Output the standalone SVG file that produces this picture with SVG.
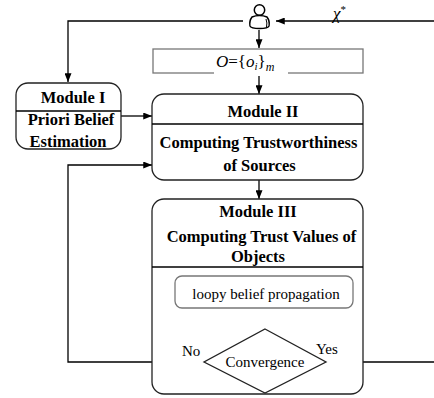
<svg xmlns="http://www.w3.org/2000/svg" width="434" height="398" viewBox="0 0 434 398">
<defs>
<marker id="arr" viewBox="0 0 10 8" refX="10" refY="4" markerWidth="9" markerHeight="7" markerUnits="userSpaceOnUse" orient="auto">
<path d="M0,0 L10,4 L0,8 Z" fill="#000"/>
</marker>
<style>
.ln{fill:none;stroke:#000;stroke-width:1.3}
.box{fill:#fff;stroke:#222;stroke-width:1.3}
.gbox{fill:#fff;stroke:#777;stroke-width:1.3}
text{font-family:'Liberation Serif','DejaVu Serif',serif}
.b{font-weight:bold;font-size:16.5px;fill:#000;text-anchor:middle}
.r{font-size:15px;fill:#000}
.m{font-size:17px;fill:#000}
</style>
</defs>
<rect width="434" height="398" fill="#fff"/>
<g id="connectors">
<polyline class="ln" points="243,21 68,21 68,82" marker-end="url(#arr)"/>
<line class="ln" x1="434" y1="21" x2="276" y2="21" marker-end="url(#arr)"/>
<line class="ln" x1="259" y1="30" x2="259" y2="48" marker-end="url(#arr)"/>
<line class="ln" x1="259" y1="73" x2="259" y2="94" marker-end="url(#arr)"/>
<line class="ln" x1="121" y1="116" x2="152" y2="116" marker-end="url(#arr)"/>
<line class="ln" x1="259" y1="180" x2="259" y2="199" marker-end="url(#arr)"/>
<line class="ln" x1="265" y1="308" x2="265" y2="329" marker-end="url(#arr)"/>
<polyline class="ln" points="204,362 68,362 68,165 152,165" marker-end="url(#arr)"/>
<line class="ln" x1="326" y1="362" x2="434" y2="362"/>
</g>
<g id="chi">
<text class="m" x="333" y="19" font-family="Liberation Serif, DejaVu Serif, serif" font-style="italic">χ<tspan font-size="11px" font-style="normal" dy="-6">*</tspan></text>
</g>
<g id="user">
<circle cx="259.5" cy="10" r="5.2" fill="#fff" stroke="#000" stroke-width="1.5"/>
<path d="M252,17 Q249,21 250,26 Q251,28.5 259.5,28.5 Q268,28.5 269,26 Q270,21 267,17 Q263.5,15.5 259.5,15.5 Q255.5,15.5 252,17 Z" fill="#fff" stroke="#000" stroke-width="1.5"/>
<path d="M266,19 Q267.5,23 266.5,27" fill="none" stroke="#000" stroke-width="1"/>
</g>
<g id="observations">
<rect class="gbox" x="153" y="49" width="210" height="24"/>
<rect x="214" y="66" width="74" height="10" fill="#fff"/>
<text class="m" x="216" y="67" font-family="Liberation Serif, DejaVu Serif, serif"><tspan font-style="italic">O</tspan>={<tspan font-style="italic">o</tspan><tspan font-style="italic" font-size="11px" dy="3">i</tspan><tspan dy="-3">}</tspan><tspan font-style="italic" font-size="12px" dy="4">m</tspan></text>
</g>
<g id="module1" font-family="Liberation Serif, DejaVu Serif, serif">
<rect class="box" x="16" y="83" width="105" height="66" rx="12"/>
<line class="ln" x1="16" y1="111" x2="121" y2="111"/>
<text class="b" x="73" y="103">Module I</text>
<text class="b" x="71" y="125">Priori Belief</text>
<text class="b" x="68" y="147">Estimation</text>
</g>
<g id="module2" font-family="Liberation Serif, DejaVu Serif, serif">
<rect class="box" x="152" y="94" width="211" height="86" rx="12"/>
<line class="ln" x1="152" y1="124" x2="363" y2="124"/>
<text class="b" x="263" y="117">Module II</text>
<text class="b" x="258.5" y="148">Computing Trustworthiness</text>
<text class="b" x="259.5" y="171">of Sources</text>
</g>
<g id="module3" font-family="Liberation Serif, DejaVu Serif, serif">
<rect class="box" x="152" y="199" width="211" height="195" rx="12"/>
<line class="ln" x1="152" y1="267" x2="363" y2="267"/>
<text class="b" x="258" y="217">Module III</text>
<text class="b" x="261.5" y="242">Computing Trust Values of</text>
<text class="b" x="258" y="262">Objects</text>
</g>
<g id="lbp" font-family="Liberation Serif, DejaVu Serif, serif">
<rect class="gbox" x="175" y="276" width="178" height="32" rx="7"/>
<text class="r" x="266" y="299" text-anchor="middle" font-size="16.5px">loopy belief propagation</text>
</g>
<g id="convergence" font-family="Liberation Serif, DejaVu Serif, serif">
<polygon points="265,329 326,362 265,393 204,362" fill="#fff" stroke="#222" stroke-width="1.3"/>
<text class="r" x="265" y="367" text-anchor="middle">Convergence</text>
<text class="r" x="182" y="356">No</text>
<text class="r" x="316" y="354">Yes</text>
</g>
</svg>
